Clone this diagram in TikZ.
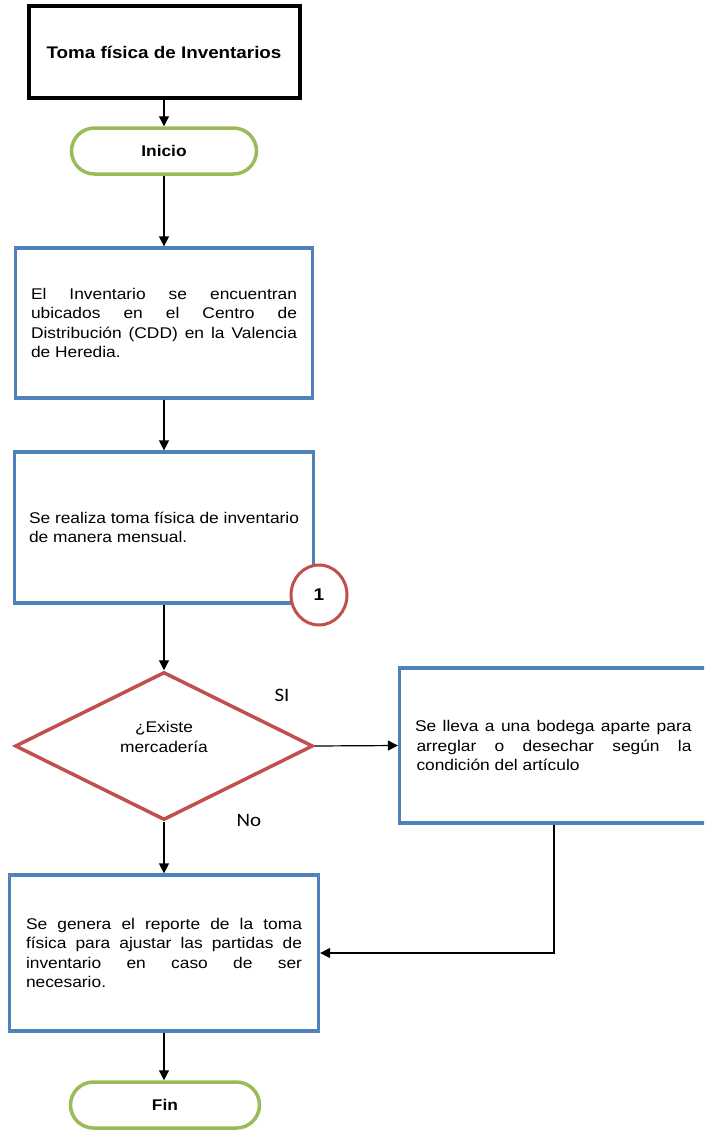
\documentclass[tikz,border=0pt]{standalone}
\usepackage{fontspec}
\setmainfont{Liberation Sans}[FakeStretch=1.12]
\newfontfamily\labfont{Carlito}[FakeStretch=1.1]
\usetikzlibrary{shapes.geometric,arrows.meta}
\definecolor{boxblue}{RGB}{79,129,189}
\definecolor{boxred}{RGB}{192,80,77}
\definecolor{boxgreen}{RGB}{155,187,89}
\tikzset{
 procbox/.style={draw=boxblue, line width=3.2pt, rectangle, inner sep=0pt, fill=white},
 term/.style={draw=boxgreen, line width=3.5pt, rounded corners=23pt, minimum height=46pt, inner sep=0pt, font=\fontsize{15.5}{17}\selectfont\bfseries},
 titlebox/.style={draw=black, line width=4pt, minimum width=271pt, minimum height=92pt, inner sep=0pt, font=\fontsize{16.8}{20}\selectfont\bfseries},
 decision/.style={diamond, draw=boxred, line width=3.5pt, minimum width=298pt, minimum height=148pt, inner sep=0pt},
 dtext/.style={align=center, inner sep=0pt, font=\fontsize{15.5}{20}\selectfont},
 connector/.style={ellipse, draw=boxred, line width=3pt, fill=white, minimum width=56pt, minimum height=60pt, inner sep=0pt, font=\fontsize{17}{19}\selectfont\bfseries},
 flow/.style={draw=black, line width=1.2pt, -{Triangle[length=10pt,width=10pt]}},
 lab/.style={font=\labfont\fontsize{19}{21}\selectfont, inner sep=0pt},
}
\newcommand{\btext}[2]{\parbox{#1}{\fontsize{15.5}{19.3}\selectfont\tolerance=10000\hbadness=10000\hyphenpenalty=10000\exhyphenpenalty=10000 #2}}
\begin{document}
\begin{tikzpicture}[x=1pt,y=-1pt]
\useasboundingbox (0,0) rectangle (704,1132);
\clip (0,0) rectangle (704,1132);
\node[titlebox] (title) at (164,52) {Toma física de Inventarios};
\node[term, minimum width=185pt] (ini) at (164,151) {Inicio};
\node[procbox, minimum width=297pt, minimum height=150pt] (b1) at (164,323)
 {\btext{266pt}{El Inventario se encuentran\linebreak ubicados en el Centro de\linebreak Distribución (CDD) en la Valencia\linebreak de Heredia.}};
\node[procbox, minimum width=299pt, minimum height=151pt] (b2) at (164,527.5)
 {\btext{270pt}{\raggedright Se realiza toma física de inventario\\ de manera mensual.}};
\node[connector] (c1) at (319,595) {1};
\node[decision] (dia) at (164,746) {};
\node[dtext] (dt) at (164,737) {¿Existe\\ mercadería};
\node[procbox, minimum width=309pt, minimum height=155pt] (b3) at (554,745.5)
 {\btext{275pt}{\hspace*{-1.5pt}Se lleva a una bodega aparte para\linebreak arreglar o desechar según la\linebreak condición del artículo}};
\node[procbox, minimum width=309pt, minimum height=156pt] (b4) at (164,953)
 {\btext{276pt}{Se genera el reporte de la toma\linebreak física para ajustar las partidas de\linebreak inventario en caso de ser\linebreak necesario.}};
\node[term, minimum width=189pt] (fin) at (165,1105) {Fin};
\node[lab] (si) at (282,695) {SI};
\node[lab] (no) at (249,820) {No};
\draw[flow] (title.south) -- (ini.north);
\draw[flow] (ini.south) -- (b1.north);
\draw[flow] (b1.south) -- (b2.north);
\draw[flow] (b2.south) -- (dia.north);
\draw[flow] (dia.east) -- (b3.west);
\draw[flow] (dia.south) -- (b4.north);
\draw[flow] (b3.south) |- (b4.east);
\draw[flow] (b4.south) -- (fin.north -| b4.south);
\end{tikzpicture}
\end{document}
